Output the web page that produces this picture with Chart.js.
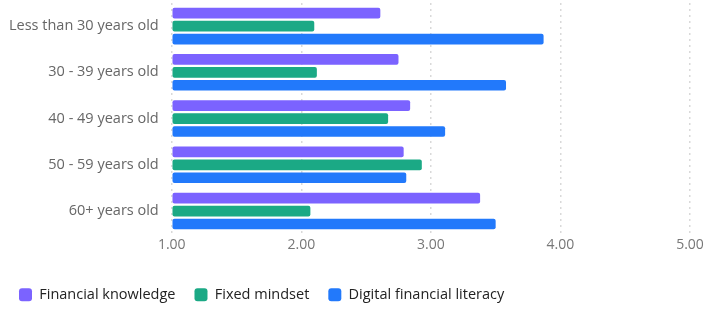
<!DOCTYPE html>
<html lang="en">
<head>
  <meta charset="UTF-8" />
  <title>Financial literacy by age</title>
  <style>
    * { margin: 0; padding: 0; box-sizing: border-box; }
    body { background: #fff; }
    .chart-box { width: 709px; height: 309px; }
  </style>
</head>
<body>
  <div class="chart-box">
    <canvas id="ageChart"></canvas>
  </div>

  <script src="https://cdn.jsdelivr.net/npm/chart.js"></script>
  <script>
    // data
    const ageGroups = ['Less than 30 years old', '30 - 39 years old', '40 - 49 years old', '50 - 59 years old', '60+ years old'];
    const financialKnowledge = [2.61, 2.75, 2.84, 2.79, 3.38];
    const fixedMindset = [2.10, 2.12, 2.67, 2.93, 2.07];
    const digitalLiteracy = [3.87, 3.58, 3.11, 2.81, 3.50];

    const fontFamily = '"Open Sans", "Noto Sans", sans-serif';

    const ctx = document.getElementById('ageChart').getContext('2d');
    new Chart(ctx, {
      type: 'bar',
      data: {
        labels: ageGroups,
        datasets: [
          {
            label: 'Financial knowledge',
            data: financialKnowledge,
            backgroundColor: '#7B63FF',
            borderRadius: 2,
            borderSkipped: false
          },
          {
            label: 'Fixed mindset',
            data: fixedMindset,
            backgroundColor: '#1BA985',
            borderRadius: 2,
            borderSkipped: false
          },
          {
            label: 'Digital financial literacy',
            data: digitalLiteracy,
            backgroundColor: '#2279FB',
            borderRadius: 2,
            borderSkipped: false
          }
        ]
      },
      options: {
        indexAxis: 'y',
        responsive: true,
        maintainAspectRatio: false,
        animation: false,
        base: 1,
        categoryPercentage: 0.84,
        barPercentage: 0.82,
        layout: {
          autoPadding: false,
          padding: { left: 0, right: 19, top: 3, bottom: -3 }
        },
        plugins: {
          legend: {
            position: 'bottom',
            align: 'start',
            labels: {
              boxWidth: 13,
              boxHeight: 13,
              useBorderRadius: true,
              borderRadius: 3,
              padding: 19,
              color: '#222',
              font: { family: fontFamily, size: 14.5 }
            }
          },
          tooltip: { enabled: false }
        },
        scales: {
          x: {
            min: 1,
            max: 5,
            afterFit(scale) { scale.height += 13.5; },
            ticks: {
              stepSize: 1,
              color: '#777',
              padding: 2,
              font: { family: fontFamily, size: 14 },
              callback: (v) => Number(v).toFixed(2)
            },
            grid: {
              color: '#d9d9d9',
              lineWidth: 1.5,
              drawTicks: false
            },
            border: { display: false, dash: [2, 4] }
          },
          y: {
            afterFit(scale) {
              scale.width += 4;
              scale.paddingTop = 0;
              scale.paddingBottom = 0;
            },
            ticks: {
              color: '#666',
              padding: 5,
              font: { family: fontFamily, size: 14.5 }
            },
            grid: { display: false },
            border: { display: false }
          }
        }
      }
    });
  </script>
</body>
</html>
